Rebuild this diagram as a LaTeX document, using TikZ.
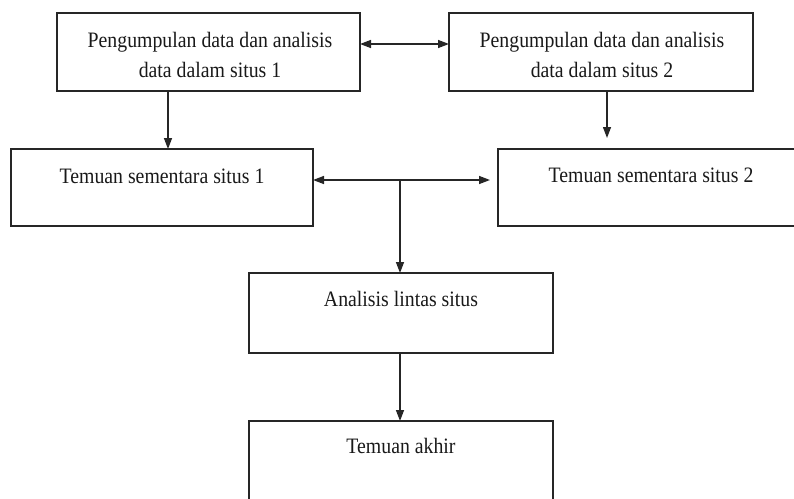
\documentclass[tikz,border=0pt]{standalone}
\usepackage{fontspec}
\setmainfont{Liberation Serif}[FakeStretch=0.9]
\usetikzlibrary{arrows.meta}
\begin{document}
\begin{tikzpicture}[x=1pt,y=-1pt,
  box/.style={draw=black!85,line width=1.6pt,rectangle,inner sep=0pt,outer sep=0pt},
  lbl/.style={anchor=base,inner sep=0pt,font=\fontsize{22}{30}\selectfont,align=center,text=black!90},
  arr/.style={draw=black!85,line width=1.4pt,-{Triangle[length=11pt,width=8pt]}},
  darr/.style={draw=black!85,line width=1.4pt,{Triangle[length=11pt,width=8pt]}-{Triangle[length=11pt,width=8pt]}},
  ln/.style={draw=black!85,line width=1.4pt}]
\useasboundingbox (0,0) rectangle (794,498);
\clip (0,0) rectangle (794,498);
% boxes
\node[box,minimum width=303pt,minimum height=78pt] (A) at (208.5,52) {};
\node[box,minimum width=304pt,minimum height=78pt] (B) at (601,52) {};
\node[box,minimum width=302pt,minimum height=77pt] (C) at (162,187.5) {};
\node[box,minimum width=306pt,minimum height=77pt] (D) at (651,187.5) {};
\node[box,minimum width=304pt,minimum height=80pt] (E) at (401,313) {};
\node[box,minimum width=304pt,minimum height=80pt] (F) at (401,461) {};
% labels
\node[lbl] (tA1) at (210,47) {Pengumpulan data dan analisis};
\node[lbl] (tA2) at (210,77) {data dalam situs 1};
\node[lbl] (tB1) at (602,47) {Pengumpulan data dan analisis};
\node[lbl] (tB2) at (602,77) {data dalam situs 2};
\node[lbl] (tC) at (162,183) {Temuan sementara situs 1};
\node[lbl] (tD) at (651,182) {Temuan sementara situs 2};
\node[lbl] (tE) at (401,306) {Analisis lintas situs};
\node[lbl] (tF) at (401,453) {Temuan akhir};
% connector points
\coordinate (bd) at (607,138);
\coordinate (cd) at (490,180);
\coordinate (j) at (400,180);
% connectors
\draw[darr] (A.east |- 0,44) -- (B.west |- 0,44);
\draw[arr] (A.south -| 168,0) -- (C.north -| 168,0);
\draw[arr] (B.south -| bd) -- (bd);
\draw[darr] (C.east |- cd) -- (cd);
\draw[arr] (j) -- (E.north -| j);
\draw[arr] (E.south -| j) -- (F.north -| j);
\end{tikzpicture}
\end{document}
